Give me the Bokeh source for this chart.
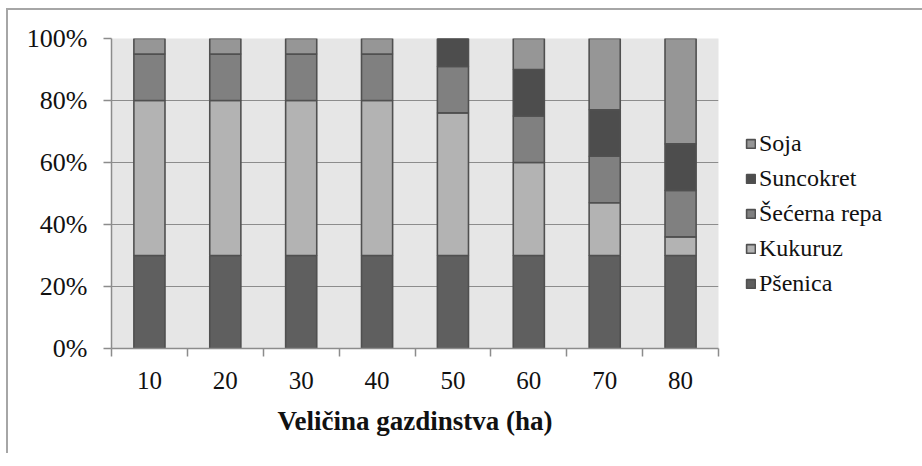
from bokeh.plotting import figure
from bokeh.models import (ColumnDataSource, FixedTicker, PrintfTickFormatter, Range1d,
                          Legend, LegendItem)
from bokeh.embed import file_html
from bokeh.resources import INLINE

categories = ["10", "20", "30", "40", "50", "60", "70", "80"]
psenica = [30, 30, 30, 30, 30, 30, 30, 30]
kukuruz = [50, 50, 50, 50, 46, 30, 17, 6]
secerna_repa = [15, 15, 15, 15, 15, 15, 15, 15]
suncokret = [0, 0, 0, 0, 9, 15, 15, 15]
soja = [5, 5, 5, 5, 0, 10, 23, 34]
y_ticks = [0, 20, 40, 60, 80, 100]

series = ["psenica", "kukuruz", "secerna", "suncokret", "soja"]
labels = ["Pšenica", "Kukuruz", "Šećerna repa", "Suncokret", "Soja"]
colors = ["#5f5f5f", "#b3b3b3", "#808080", "#4d4d4d", "#969696"]

xpos = [i + 0.5 for i in range(len(categories))]
src = ColumnDataSource(dict(x=xpos, psenica=psenica, kukuruz=kukuruz,
                            secerna=secerna_repa, suncokret=suncokret, soja=soja))

FONT = "'Liberation Serif', 'Times New Roman', serif"

p = figure(output_backend="svg", toolbar_location=None,
           x_range=Range1d(0, len(categories)), y_range=Range1d(0, 100),
           frame_width=607, frame_height=310,
           min_border_left=103, min_border_top=28, min_border_right=190, min_border_bottom=105)
p.background_fill_color = "#e6e6e6"
p.border_fill_color = "white"
p.outline_line_color = None
p.styles = {"border-top": "2px solid #a6a6a6", "border-left": "2px solid #a6a6a6",
            "margin-left": "6px", "margin-top": "8px"}

renderers = p.vbar_stack(series, x="x", width=0.41, source=src, fill_color=colors,
                         line_color="#505050", line_width=1.6)

# axes
p.xgrid.grid_line_color = None
p.ygrid.grid_line_color = "#8c8c8c"
p.ygrid.grid_line_width = 1.2
p.ygrid.ticker = FixedTicker(ticks=y_ticks)

p.yaxis.ticker = FixedTicker(ticks=y_ticks)
p.yaxis.formatter = PrintfTickFormatter(format="%d%%")
p.yaxis.axis_line_color = "#8c8c8c"
p.yaxis.axis_line_width = 1.5
p.yaxis.major_tick_line_color = "#8c8c8c"
p.yaxis.major_tick_line_width = 1.5
p.yaxis.major_tick_out = 8
p.yaxis.major_tick_in = 0
p.yaxis.minor_tick_line_color = None
p.yaxis.major_label_text_font = FONT
p.yaxis.major_label_text_font_size = "26px"
p.yaxis.major_label_text_color = "#111111"
p.yaxis.major_label_standoff = 16

p.xaxis.ticker = FixedTicker(ticks=xpos, minor_ticks=list(range(len(categories) + 1)))
p.xaxis.major_label_overrides = {x: c for x, c in zip(xpos, categories)}
p.xaxis.axis_line_color = "#8c8c8c"
p.xaxis.axis_line_width = 1.5
p.xaxis.major_tick_line_color = None
p.xaxis.minor_tick_line_color = "#8c8c8c"
p.xaxis.minor_tick_line_width = 1.5
p.xaxis.minor_tick_out = 8
p.xaxis.minor_tick_in = 0
p.xaxis.major_label_text_font = FONT
p.xaxis.major_label_text_font_size = "25px"
p.xaxis.major_label_text_color = "#111111"
p.xaxis.major_label_standoff = 15
p.xaxis.axis_label = "Veličina gazdinstva (ha)"
p.xaxis.axis_label_text_font = FONT
p.xaxis.axis_label_text_font_style = "bold"
p.xaxis.axis_label_text_font_size = "27px"
p.xaxis.axis_label_text_color = "#111111"
p.xaxis.axis_label_standoff = 14

items = [LegendItem(label=lab, renderers=[r]) for lab, r in zip(labels, renderers)][::-1]
legend = Legend(items=items, location=(27, 51))
legend.background_fill_alpha = 0
legend.border_line_color = None
legend.margin = 0
legend.padding = 0
legend.glyph_width = 11
legend.glyph_height = 11
legend.label_standoff = 3
legend.label_height = 22
legend.spacing = 8
legend.label_text_font = FONT
legend.label_text_font_size = "24px"
legend.label_text_color = "#111111"
p.add_layout(legend, "right")

open("out.html", "w").write(file_html(p, INLINE))
